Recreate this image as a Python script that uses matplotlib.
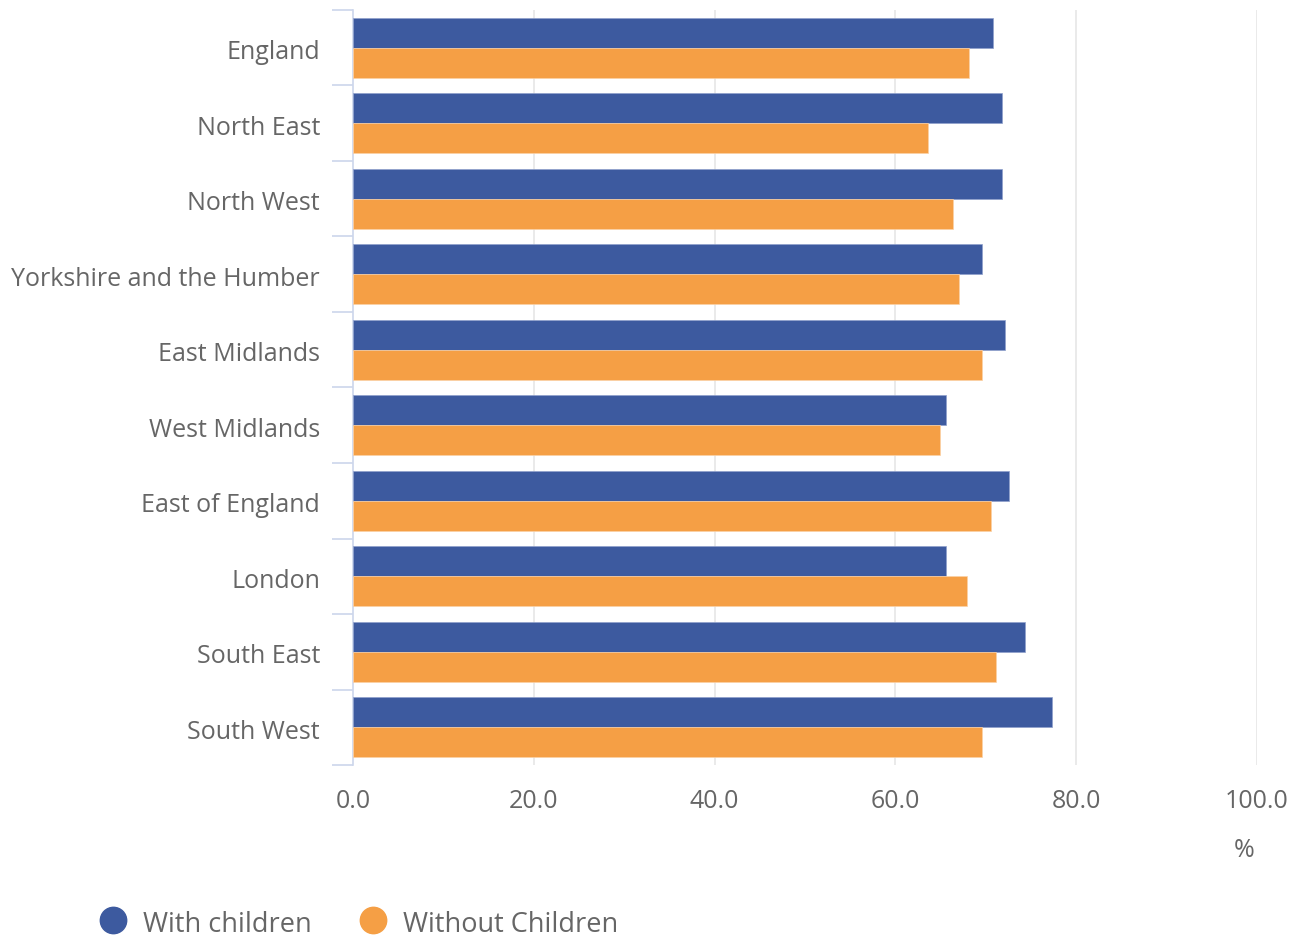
import matplotlib
matplotlib.use("Agg")
import matplotlib.pyplot as plt
import matplotlib.transforms as mtransforms
import numpy as np
from matplotlib.lines import Line2D

regions = ["England", "North East", "North West", "Yorkshire and the Humber",
           "East Midlands", "West Midlands", "East of England", "London",
           "South East", "South West"]
with_children = [70.8, 71.8, 71.8, 69.6, 72.1, 65.6, 72.6, 65.6, 74.3, 77.3]
without_children = [68.1, 63.6, 66.4, 67.1, 69.6, 64.9, 70.6, 67.9, 71.1, 69.6]
x_ticks = [0, 20, 40, 60, 80, 100]
x_tick_labels = ["0.0", "20.0", "40.0", "60.0", "80.0", "100.0"]
series_names = ["With children", "Without Children"]

BLUE = "#3d5a9f"
ORANGE = "#f59f45"
TXT = "#666666"

plt.rcParams['font.family'] = ['Open Sans', 'DejaVu Sans']

W, H = 1296, 938
fig = plt.figure(figsize=(W/100, H/100), dpi=100)
ax = fig.add_axes([353.3/W, 1-765/H, (1256.7-353.3)/W, (765-10)/H])

y = np.arange(len(regions))
h = 0.4
ax.barh(y - h/2, with_children, height=h, color=BLUE, edgecolor="#8fa0cc", linewidth=0.5, zorder=3)
ax.barh(y + h/2, without_children, height=h, color=ORANGE, edgecolor="#fbd2a6", linewidth=0.5, zorder=3)

ax.set_xlim(0, 100)
ax.set_ylim(len(regions) - 0.5, -0.5)
ax.set_yticks(y)
ax.set_yticklabels(regions, fontsize=18, color=TXT)
ax.set_yticks(np.arange(len(regions) + 1) - 0.5, minor=True)
ax.tick_params(axis='y', which='major', length=0, pad=24)
ax.tick_params(axis='y', which='minor', length=15, width=1.2, color="#ccd6eb")

ax.set_xticks(x_ticks)
ax.set_xticklabels(x_tick_labels, fontsize=18, color=TXT)
ax.tick_params(axis='x', which='major', length=0, pad=17)

# small vertical nudge of y labels
off = mtransforms.ScaledTranslation(0, -2/100, fig.dpi_scale_trans)
for lab in ax.get_yticklabels():
    lab.set_transform(lab.get_transform() + off)

for v in x_ticks[1:]:
    ax.axvline(v, color="#e6e6e6", linewidth=1.2, zorder=0)

for s in ["top", "right", "bottom"]:
    ax.spines[s].set_visible(False)
ax.spines["left"].set_color("#ccd6eb")
ax.spines["left"].set_linewidth(1.2)

fig.text(1244/W, 1-850/H, "%", fontsize=18, color=TXT, ha="center", va="center")

# legend
leg_x = [113, 373]
leg_y = 920
for name, c, lx in zip(series_names, (BLUE, ORANGE), leg_x):
    fig.add_artist(Line2D([lx/W], [1-leg_y/H], transform=fig.transFigure, marker='o',
                          linestyle='none', markersize=19, markerfacecolor=c, markeredgecolor=c))
    fig.text((lx+30)/W, 1-(leg_y+5)/H, name, fontsize=19.5, color=TXT, ha="left", va="center")

fig.savefig("out.png", dpi=100)
